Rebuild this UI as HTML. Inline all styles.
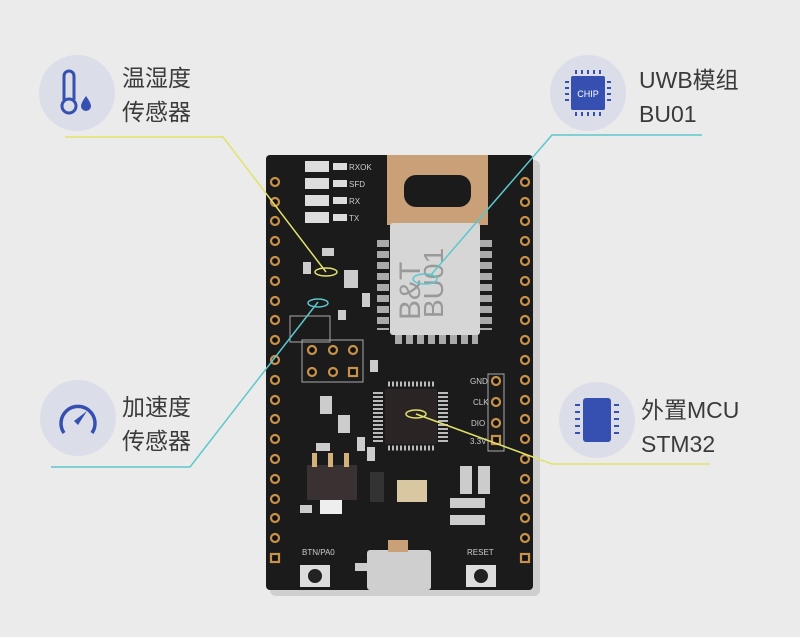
<!DOCTYPE html>
<html><head><meta charset="utf-8"><style>
html,body{margin:0;padding:0;width:800px;height:637px;overflow:hidden;background:#ebebeb}
svg{display:block}
text{font-family:"Liberation Sans","Noto Sans CJK SC",sans-serif}
</style></head><body>
<svg width="800" height="637" viewBox="0 0 800 637" xmlns="http://www.w3.org/2000/svg">
<rect width="800" height="637" fill="#ebebeb"/>
<rect x="270" y="160" width="270" height="436" rx="6" fill="#bdbdbd" opacity="0.6"/>
<rect x="266" y="155" width="267" height="435" rx="4" fill="#1b1b1b"/>
<g fill="#111" stroke="#c8914a" stroke-width="2.2">
<circle cx="275" cy="182" r="4"/><circle cx="275" cy="202" r="4"/><circle cx="275" cy="221" r="4"/><circle cx="275" cy="241" r="4"/><circle cx="275" cy="261" r="4"/><circle cx="275" cy="281" r="4"/><circle cx="275" cy="301" r="4"/><circle cx="275" cy="320" r="4"/><circle cx="275" cy="340" r="4"/><circle cx="275" cy="360" r="4"/><circle cx="275" cy="380" r="4"/><circle cx="275" cy="400" r="4"/><circle cx="275" cy="419" r="4"/><circle cx="275" cy="439" r="4"/><circle cx="275" cy="459" r="4"/><circle cx="275" cy="479" r="4"/><circle cx="275" cy="499" r="4"/><circle cx="275" cy="518" r="4"/><circle cx="275" cy="538" r="4"/>
<circle cx="525" cy="182" r="4"/><circle cx="525" cy="202" r="4"/><circle cx="525" cy="221" r="4"/><circle cx="525" cy="241" r="4"/><circle cx="525" cy="261" r="4"/><circle cx="525" cy="281" r="4"/><circle cx="525" cy="301" r="4"/><circle cx="525" cy="320" r="4"/><circle cx="525" cy="340" r="4"/><circle cx="525" cy="360" r="4"/><circle cx="525" cy="380" r="4"/><circle cx="525" cy="400" r="4"/><circle cx="525" cy="419" r="4"/><circle cx="525" cy="439" r="4"/><circle cx="525" cy="459" r="4"/><circle cx="525" cy="479" r="4"/><circle cx="525" cy="499" r="4"/><circle cx="525" cy="518" r="4"/><circle cx="525" cy="538" r="4"/>
<rect x="271" y="554" width="8" height="8"/><rect x="521" y="554" width="8" height="8"/>
<circle cx="312" cy="350" r="4"/><circle cx="333" cy="350" r="4"/><circle cx="353" cy="350" r="4"/>
<circle cx="312" cy="372" r="4"/><circle cx="333" cy="372" r="4"/><rect x="349" y="368" width="8" height="8"/>
<circle cx="496" cy="381" r="4"/><circle cx="496" cy="402" r="4"/><circle cx="496" cy="423" r="4"/><rect x="492" y="436" width="8" height="8"/>
</g>
<g fill="none" stroke="#aaa" stroke-width="1">
<rect x="302" y="340" width="61" height="42"/><rect x="488" y="374" width="16" height="77"/>
<rect x="290" y="316" width="40" height="26"/>
</g>
<g fill="#ddd"><rect x="305" y="161" width="24" height="11"/><rect x="305" y="178" width="24" height="11"/><rect x="305" y="195" width="24" height="11"/><rect x="305" y="212" width="24" height="11"/>
<rect x="333" y="163" width="14" height="7"/><rect x="333" y="180" width="14" height="7"/><rect x="333" y="197" width="14" height="7"/><rect x="333" y="214" width="14" height="7"/></g>
<g fill="#ccc" font-size="8"><text x="349" y="170">RXOK</text><text x="349" y="187">SFD</text><text x="349" y="204">RX</text><text x="349" y="221">TX</text>
<text x="470" y="384">GND</text><text x="473" y="405">CLK</text><text x="471" y="426">DIO</text><text x="470" y="444">3.3V</text>
<text x="302" y="555">BTN/PA0</text><text x="467" y="555">RESET</text></g>
<rect x="387" y="155" width="101" height="70" fill="#c9a078"/>
<rect x="404" y="175" width="67" height="32" rx="12" fill="#1b1b1b"/>
<g stroke="#aaa" stroke-width="12" stroke-dasharray="7,4"><line x1="383" y1="240" x2="383" y2="330"/><line x1="486" y1="240" x2="486" y2="330"/></g>
<g stroke="#aaa" stroke-width="12" stroke-dasharray="7,4"><line x1="395" y1="338" x2="478" y2="338"/></g>
<rect x="390" y="223" width="90" height="112" rx="3" fill="#d6d6d6"/>
<text transform="rotate(-90 420 320)" x="420" y="320" font-family="Liberation Serif" font-size="30" fill="#999">B&amp;T</text>
<text transform="rotate(-90 443 318)" x="443" y="318" font-family="Liberation Serif" font-size="28" fill="#999">BU01</text>
<g fill="#ccc"><rect x="303" y="262" width="8" height="12"/><rect x="322" y="248" width="12" height="8"/><rect x="344" y="270" width="14" height="18"/><rect x="362" y="293" width="8" height="14"/><rect x="338" y="310" width="8" height="10"/><rect x="370" y="360" width="8" height="12"/>
<rect x="320" y="396" width="12" height="18"/><rect x="338" y="415" width="12" height="18"/><rect x="357" y="437" width="8" height="14"/><rect x="367" y="447" width="8" height="14"/>
<rect x="316" y="443" width="14" height="8"/><rect x="397" y="480" width="30" height="22" fill="#d8c7a0"/><rect x="320" y="500" width="22" height="14" fill="#eee"/>
<rect x="460" y="466" width="12" height="28"/><rect x="478" y="466" width="12" height="28"/><rect x="450" y="498" width="35" height="10"/><rect x="450" y="515" width="35" height="10"/>
<rect x="300" y="505" width="12" height="8"/><rect x="355" y="563" width="12" height="8"/></g>
<rect x="307" y="465" width="50" height="35" fill="#3a3232"/>
<g fill="#d4b07a"><rect x="312" y="453" width="5" height="14"/><rect x="328" y="453" width="5" height="14"/><rect x="344" y="453" width="5" height="14"/></g>
<rect x="370" y="472" width="14" height="30" fill="#333"/>
<g stroke="#bbb" stroke-width="5" stroke-dasharray="2,2"><line x1="388" y1="384" x2="434" y2="384"/><line x1="388" y1="448" x2="434" y2="448"/></g>
<g stroke="#bbb" stroke-width="10" stroke-dasharray="2,2"><line x1="378" y1="392" x2="378" y2="442"/><line x1="443" y1="392" x2="443" y2="442"/></g>
<rect x="385" y="389" width="52" height="55" fill="#2a2424"/>
<rect x="367" y="550" width="64" height="40" rx="3" fill="#cfcfcf"/>
<rect x="388" y="540" width="20" height="12" fill="#c9a078"/>
<rect x="300" y="565" width="30" height="22" fill="#ddd"/><circle cx="315" cy="576" r="7" fill="#222"/>
<rect x="466" y="565" width="30" height="22" fill="#ddd"/><circle cx="481" cy="576" r="7" fill="#222"/>
<g fill="none" stroke-width="1.5">
<polyline points="65,137 223,137 326,272" stroke="#e2e26a"/>
<ellipse cx="326" cy="272" rx="11" ry="4" stroke="#e2e26a"/>
<polyline points="51,467 190,467 318,302" stroke="#5cc7cc"/>
<ellipse cx="318" cy="303" rx="10" ry="4" stroke="#5cc7cc"/>
<polyline points="702,135 552,135 430,276" stroke="#5cc7cc"/>
<ellipse cx="425" cy="279" rx="12" ry="5" stroke="#5cc7cc"/>
<polyline points="416,414 552,464 710,464" stroke="#e2e26a"/>
<ellipse cx="416" cy="414" rx="10" ry="4" stroke="#e2e26a"/>
</g>
<circle cx="77" cy="93" r="38" fill="#dbdde9"/>
<circle cx="588" cy="93" r="38" fill="#dbdde9"/>
<circle cx="78" cy="418" r="38" fill="#dbdde9"/>
<circle cx="597" cy="420" r="38" fill="#dbdde9"/>
<g stroke="#3550b0" stroke-width="3" fill="none"><path d="M64,100 V76 a5,5 0 0 1 10,0 V100"/><circle cx="69" cy="106" r="7"/></g>
<path d="M86,96 q-5,7 -5,10 a5,5 0 0 0 10,0 q0,-3 -5,-10z" fill="#3550b0"/>
<rect x="571" y="76" width="34" height="34" rx="2" fill="#3550b0"/>
<text x="588" y="97" font-size="9" fill="#fff" text-anchor="middle">CHIP</text>
<g stroke="#3550b0" stroke-width="2"><path d="M576,70v4M582,70v4M588,70v4M594,70v4M600,70v4M576,112v4M582,112v4M588,112v4M594,112v4M600,112v4M565,82h4M565,88h4M565,94h4M565,100h4M607,82h4M607,88h4M607,94h4M607,100h4"/></g>
<path d="M64,433 a17,17 0 1 1 28,0" stroke="#3550b0" stroke-width="3.5" fill="none"/>
<path d="M74,421 l13,-10 -9,14z" fill="#3550b0"/>
<rect x="583" y="398" width="28" height="44" rx="3" fill="#3550b0"/>
<g stroke="#3550b0" stroke-width="2"><path d="M575,405h5M575,412h5M575,419h5M575,426h5M575,433h5M614,405h5M614,412h5M614,419h5M614,426h5M614,433h5"/></g>
<g font-size="23" fill="#3a3a3a">
<text x="122" y="86">温湿度</text><text x="122" y="120">传感器</text>
<text x="639" y="88">UWB模组</text><text x="639" y="122">BU01</text>
<text x="122" y="415">加速度</text><text x="122" y="449">传感器</text>
<text x="641" y="418">外置MCU</text><text x="641" y="452">STM32</text>
</g>
</svg>
</body></html>
